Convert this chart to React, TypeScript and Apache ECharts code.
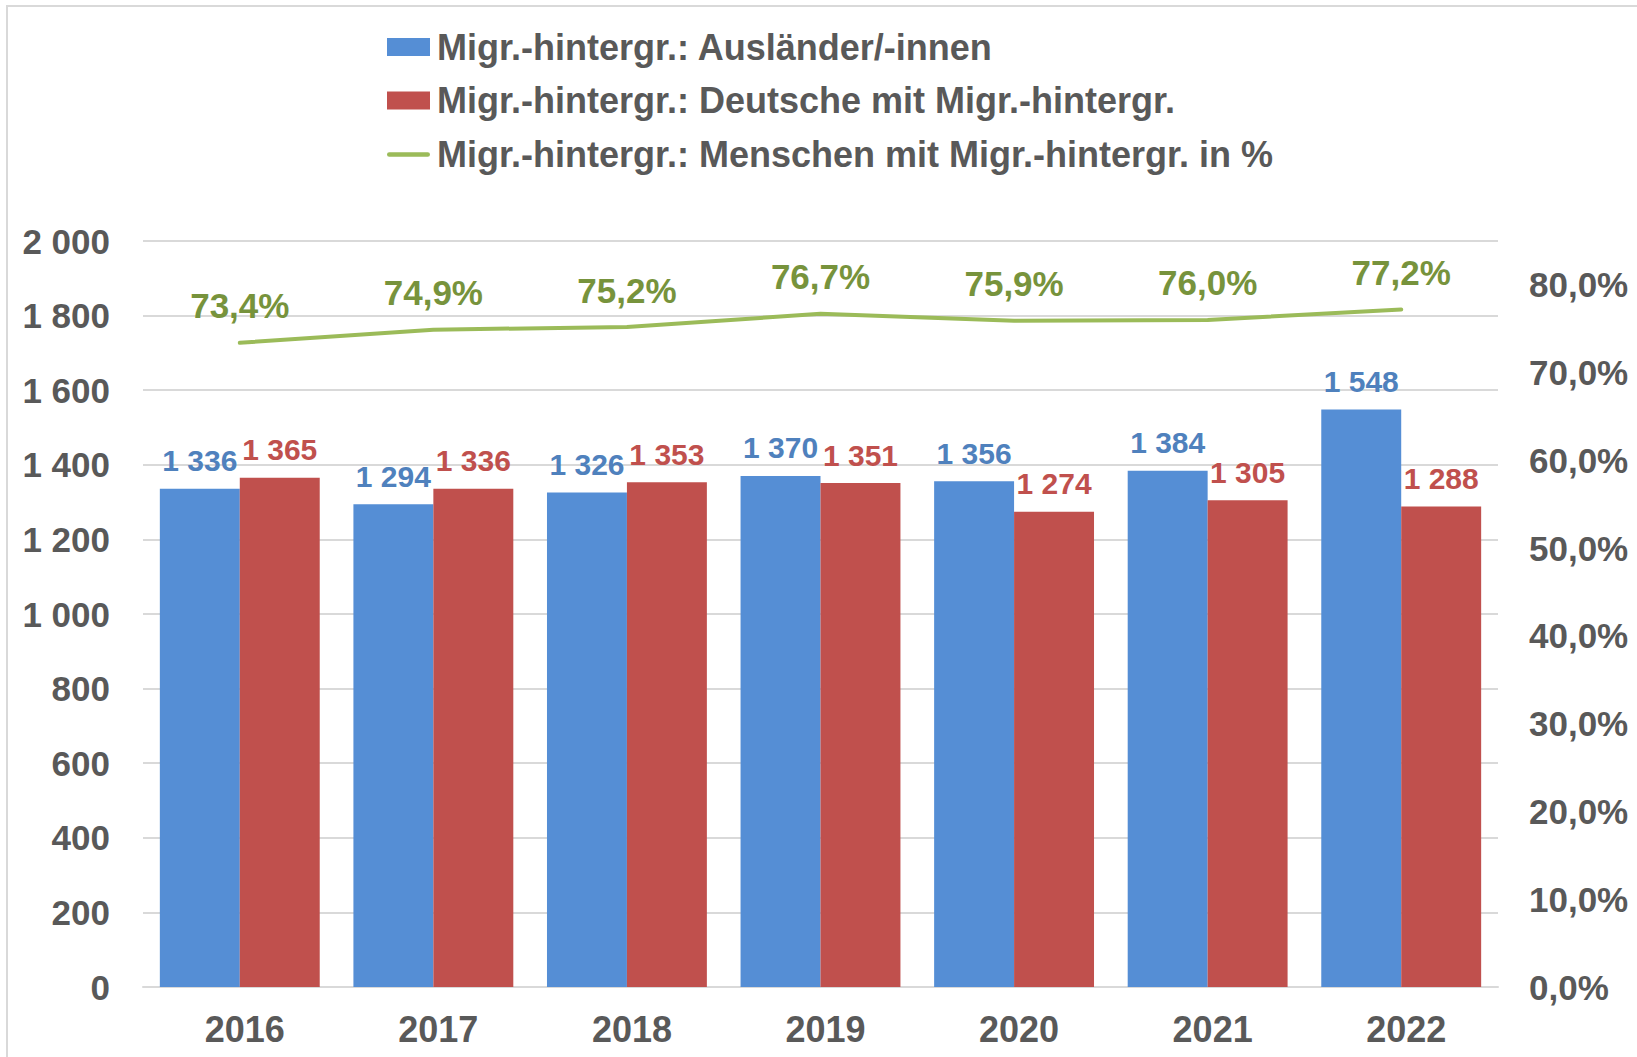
import React, { useEffect, useRef } from "react";
import * as echarts from "echarts";

const years = ["2016", "2017", "2018", "2019", "2020", "2021", "2022"];
const auslaender = [1336, 1294, 1326, 1370, 1356, 1384, 1548];
const deutsche = [1365, 1336, 1353, 1351, 1274, 1305, 1288];
const anteil = [73.4, 74.9, 75.2, 76.7, 75.9, 76.0, 77.2];

const seriesNames = [
  "Migr.-hintergr.: Ausländer/-innen",
  "Migr.-hintergr.: Deutsche mit Migr.-hintergr.",
  "Migr.-hintergr.: Menschen mit Migr.-hintergr. in %",
];

const FONT = "'Liberation Sans', Arial, sans-serif";
const GRAY = "#595959";
const LINE_ICON =
  "path://M0,0h0.01v0.01h-0.01zM45,18h0.01v0.01h-0.01zM1.5,7h42a2.5,2.5 0 0 1 0,5h-42a2.5,2.5 0 0 1 0,-5z";

const fmtThousands = (v: number) =>
  String(Math.round(v)).replace(/\B(?=(\d{3})+(?!\d))/g, " ");
const fmtPct = (v: number) => v.toFixed(1).replace(".", ",") + "%";

export default function App() {
  const ref = useRef<HTMLDivElement>(null);
  useEffect(() => {
    if (!ref.current) return;
    const chart = echarts.init(ref.current, undefined, { renderer: "svg" });
    chart.setOption({
      animation: false,
      backgroundColor: "#ffffff",
      textStyle: { fontFamily: FONT },
      graphic: [
        {
          type: "rect",
          shape: { x: 7, y: 6, width: 1700, height: 1100 },
          style: { fill: "none", stroke: "#d9d9d9", lineWidth: 2 },
          silent: true,
        },
      ],
      legend: {
        orient: "vertical",
        left: 387,
        top: 29,
        padding: 0,
        itemWidth: 43,
        itemHeight: 18,
        itemGap: 17.5,
        textStyle: {
          fontSize: 36,
          fontWeight: "bold",
          color: GRAY,
          fontFamily: FONT,
          padding: [0, 0, 0, 2],
        },
        data: [
          { name: seriesNames[0], icon: "rect" },
          { name: seriesNames[1], icon: "rect" },
          { name: seriesNames[2], icon: LINE_ICON, itemStyle: { color: "#9BBB59" } },
        ],
      },
      grid: { left: 143, right: 139, top: 241, bottom: 70 },
      xAxis: {
        type: "category",
        data: years,
        axisLine: { show: true, lineStyle: { color: "#d9d9d9", width: 2 } },
        axisTick: { show: false },
        axisLabel: {
          fontSize: 36,
          fontWeight: "bold",
          color: GRAY,
          margin: 24,
          fontFamily: FONT,
          padding: [0, 0, 0, 10],
        },
      },
      yAxis: [
        {
          type: "value",
          min: 0,
          max: 2000,
          interval: 200,
          axisLine: { show: false },
          axisTick: { show: false },
          splitLine: { lineStyle: { color: "#d9d9d9", width: 2 } },
          axisLabel: {
            fontSize: 35,
            fontWeight: "bold",
            color: GRAY,
            margin: 33,
            fontFamily: FONT,
            formatter: (v: number) => fmtThousands(v),
          },
        },
        {
          type: "value",
          min: 0,
          max: 85,
          interval: 10,
          position: "right",
          axisLine: { show: false },
          axisTick: { show: false },
          splitLine: { show: false },
          axisLabel: {
            fontSize: 35,
            fontWeight: "bold",
            color: GRAY,
            margin: 31,
            fontFamily: FONT,
            showMaxLabel: false,
            formatter: (v: number) => (v > 80 ? "" : fmtPct(v)),
          },
        },
      ],
      series: [
        {
          name: seriesNames[0],
          type: "bar",
          data: auslaender,
          barGap: "0%",
          barCategoryGap: "17.4%",
          itemStyle: { color: "#558ED5" },
          label: {
            show: true,
            position: "top",
            distance: 13,
            fontSize: 30,
            fontWeight: "bold",
            color: "#4F81BD",
            fontFamily: FONT,
            formatter: (p: any) => fmtThousands(p.value),
          },
        },
        {
          name: seriesNames[1],
          type: "bar",
          data: deutsche,
          barGap: "0%",
          barCategoryGap: "17.4%",
          itemStyle: { color: "#C0504D" },
          label: {
            show: true,
            position: "top",
            distance: 13,
            fontSize: 30,
            fontWeight: "bold",
            color: "#C0504D",
            fontFamily: FONT,
            formatter: (p: any) => fmtThousands(p.value),
          },
        },
        {
          name: seriesNames[2],
          type: "line",
          yAxisIndex: 1,
          data: anteil,
          symbol: "circle",
          symbolSize: 1,
          showSymbol: true,
          z: 5,
          lineStyle: { color: "#9BBB59", width: 4, cap: "round" },
          itemStyle: { color: "#9BBB59" },
          label: {
            show: true,
            position: "top",
            distance: 19,
            fontSize: 35,
            fontWeight: "bold",
            color: "#77933C",
            fontFamily: FONT,
            formatter: (p: any) => fmtPct(p.value),
          },
        },
      ],
    });
    return () => chart.dispose();
  }, []);
  return (
    <div
      ref={ref}
      style={{ position: "absolute", left: 0, top: 0, width: 1637, height: 1057 }}
    />
  );
}
